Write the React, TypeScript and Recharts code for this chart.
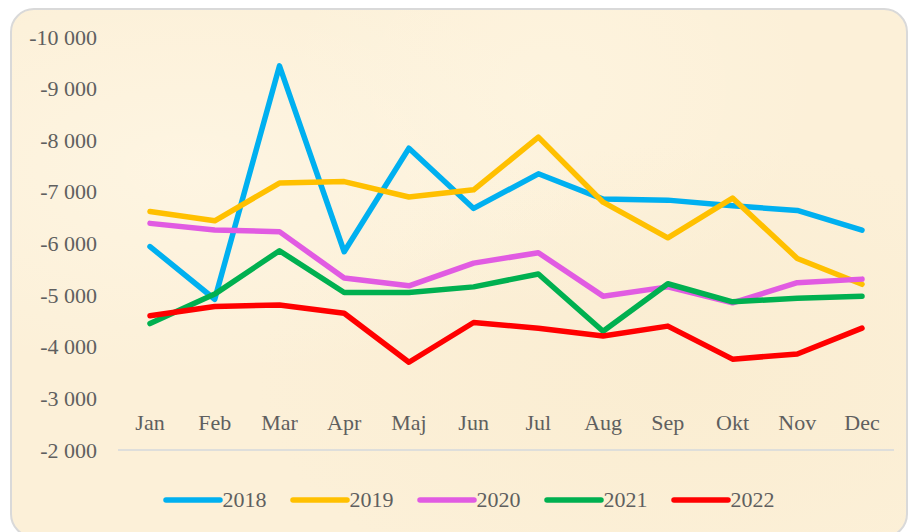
import React from 'react';
import { LineChart, Line, XAxis, YAxis, Legend } from 'recharts';

const months = ['Jan', 'Feb', 'Mar', 'Apr', 'Maj', 'Jun', 'Jul', 'Aug', 'Sep', 'Okt', 'Nov', 'Dec'];
const s2018 = [-5940, -4920, -9440, -5840, -7845, -6680, -7350, -6860, -6840, -6730, -6640, -6260];
const s2019 = [-6620, -6440, -7170, -7200, -6900, -7040, -8060, -6800, -6110, -6880, -5710, -5210];
const s2020 = [-6390, -6260, -6230, -5330, -5180, -5620, -5820, -4980, -5160, -4850, -5240, -5310];
const s2021 = [-4450, -5020, -5860, -5050, -5050, -5160, -5410, -4300, -5220, -4870, -4940, -4980];
const s2022 = [-4600, -4780, -4810, -4650, -3700, -4470, -4360, -4210, -4400, -3760, -3860, -4360];
const yTicks = [-10000, -9000, -8000, -7000, -6000, -5000, -4000, -3000, -2000];

const seriesNames = ['2018', '2019', '2020', '2021', '2022'];
const seriesValues = [s2018, s2019, s2020, s2021, s2022];
const seriesColors = ['#00B0F0', '#FFC000', '#E15BE2', '#00B050', '#FF0000'];

const data = months.map((m, i) => {
  const row: Record<string, string | number> = { month: m };
  seriesNames.forEach((n, k) => {
    row[n] = seriesValues[k][i];
  });
  return row;
});

const FONT = '"Liberation Serif", "Times New Roman", serif';
const TEXT = '#5f5f5f';

const fmt = (v: number) => {
  const neg = v < 0;
  const s = Math.abs(v).toString().replace(/\B(?=(\d{3})+(?!\d))/g, ' ');
  return (neg ? '-' : '') + s;
};

const XTick = (props: any) => {
  const { x, y, payload } = props;
  return (
    <text x={x} y={y - 20} textAnchor="middle" fill={TEXT} fontSize={22} fontFamily={FONT}>
      {payload.value}
    </text>
  );
};

const YTick = (props: any) => {
  const { x, y, payload } = props;
  return (
    <text x={x - 21} y={y + 7.5} textAnchor="end" fill={TEXT} fontSize={22} fontFamily={FONT}>
      {fmt(payload.value)}
    </text>
  );
};

const LegendContent = (props: any) => {
  const payload = props.payload || [];
  return (
    <div style={{ display: 'flex', alignItems: 'center', height: 28, paddingLeft: 162.5 }}>
      {payload.map((p: any) => (
        <div key={p.value} style={{ display: 'flex', alignItems: 'center', marginRight: 23 }}>
          <svg width={60} height={10} style={{ display: 'block' }}>
            <line x1={3} y1={5} x2={57} y2={5} stroke={p.color} strokeWidth={5.5} strokeLinecap="round" />
          </svg>
          <span style={{ fontFamily: FONT, fontSize: 22, color: TEXT, lineHeight: '28px' }}>{p.value}</span>
        </div>
      ))}
    </div>
  );
};

export default function App() {
  return (
    <div style={{ position: 'absolute', left: 0, top: 0, width: 912, height: 532, overflow: 'hidden', background: '#ffffff' }}>
      <div
        style={{
          position: 'absolute',
          left: 10,
          top: 8,
          width: 898,
          height: 530,
          boxSizing: 'border-box',
          border: '2px solid #D9D9D9',
          borderRadius: 24,
          background:
            'radial-gradient(ellipse at 20% 30%, rgba(255,248,232,0.6), rgba(255,248,232,0) 40%), radial-gradient(ellipse at 75% 70%, rgba(245,228,190,0.25), rgba(245,228,190,0) 45%), radial-gradient(ellipse at 60% 15%, rgba(255,247,228,0.5), rgba(255,247,228,0) 35%), #FCF0D8',
        }}
      />
      <div style={{ position: 'absolute', left: 0, top: 0 }}>
        <LineChart width={912} height={532} data={data} margin={{ top: 37, right: 18, bottom: 24, left: 0 }}>
          <XAxis
            dataKey="month"
            height={30}
            tickLine={false}
            tickSize={0}
            tickMargin={0}
            axisLine={{ stroke: '#D5D8DC', strokeWidth: 1.5 }}
            padding={{ left: 32, right: 32 }}
            tick={<XTick />}
            interval={0}
          />
          <YAxis
            reversed
            domain={[-10000, -2000]}
            ticks={yTicks}
            width={118}
            axisLine={false}
            tickLine={false}
            tickSize={0}
            tickMargin={0}
            tick={<YTick />}
            interval={0}
            allowDataOverflow
          />
          <Legend
            verticalAlign="bottom"
            content={<LegendContent />}
            wrapperStyle={{ position: 'absolute', top: 486, left: 0, width: 912, height: 28, bottom: 'auto' }}
          />
          {seriesNames.map((n, k) => (
            <Line
              key={n}
              type="linear"
              dataKey={n}
              stroke={seriesColors[k]}
              strokeWidth={5.5}
              strokeLinecap="round"
              strokeLinejoin="round"
              dot={false}
              activeDot={false}
              isAnimationActive={false}
            />
          ))}
        </LineChart>
      </div>
    </div>
  );
}
